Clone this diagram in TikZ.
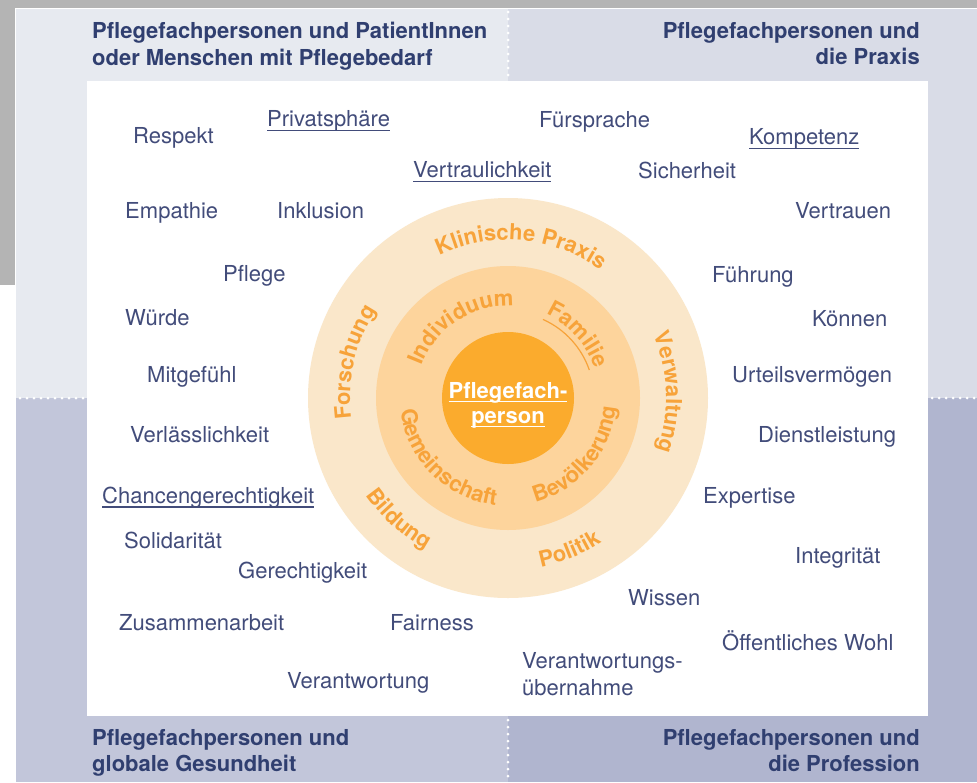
\documentclass[tikz,border=0pt]{standalone}
\usepackage{fontspec}
\setmainfont{TeX Gyre Heros}
\usetikzlibrary{decorations.text}

\definecolor{outgray}{RGB}{180,180,180}
\definecolor{quadTL}{RGB}{231,234,240}
\definecolor{quadTR}{RGB}{217,220,231}
\definecolor{quadBL}{RGB}{194,198,218}
\definecolor{quadBR}{RGB}{176,181,207}
\definecolor{headc}{RGB}{48,63,112}
\definecolor{wordc}{RGB}{66,76,122}
\definecolor{ringout}{RGB}{250,231,202}
\definecolor{ringmid}{RGB}{253,212,156}
\definecolor{ringin}{RGB}{251,171,45}
\definecolor{ringtxt}{RGB}{247,163,58}

\tikzstyle{head} = [font=\fontsize{22}{26.5}\selectfont\bfseries, text=headc, inner sep=0pt]
\tikzstyle{word} = [font=\fontsize{22}{27}\selectfont, text=wordc, inner sep=0pt, anchor=base west]
\tikzstyle{dots} = [white, line width=3pt, line cap=round, dash pattern=on 0pt off 7pt]

\newcommand{\ringfont}{\fontsize{22}{26}\selectfont\bfseries}
% underline drawn a fixed distance below the baseline
\newcommand{\ulw}[2][5pt]{\setbox0\hbox{#2}\rlap{\rule[-#1]{\wd0}{1.3pt}}\box0}

\begin{document}
\begin{tikzpicture}[x=1pt, y=1pt]
\useasboundingbox (0,0) rectangle (977,-782);
\fill[white] (0,0) rectangle (977,-782);
\fill[outgray] (0,0) rectangle (977,-8);
\fill[outgray] (0,0) rectangle (15,-285);

% the four fields
\fill[quadTL] (16,-9) rectangle (508,-398);
\fill[quadTR] (508,-9) rectangle (977,-398);
\fill[quadBL] (16,-398) rectangle (508,-782);
\fill[quadBR] (508,-398) rectangle (977,-782);
\draw[dots] (508,-12) -- (508,-81);
\draw[dots] (508,-720) -- (508,-782);
\draw[dots] (20,-398) -- (87,-398);
\draw[dots] (932,-398) -- (977,-398);
\fill[white] (87,-81) rectangle (928,-716);

\node[head, anchor=north west, align=left] (hpat) at (92,-22) {Pflegefachpersonen und PatientInnen\\oder Menschen mit Pflegebedarf};
\node[head, anchor=north east, align=right] (hprax) at (920,-22) {Pflegefachpersonen und\\die Praxis};
\node[head, anchor=north west, align=left] (hglob) at (92,-729) {Pflegefachpersonen und\\globale Gesundheit};
\node[head, anchor=north east, align=right] (hprof) at (920,-729) {Pflegefachpersonen und\\die Profession};

% rings
\coordinate (hub) at (508,-398);
\fill[ringout] (hub) circle[radius=200pt];
\fill[ringmid] (hub) circle[radius=132pt];
\fill[ringin] (hub) circle[radius=66pt];

\node[font=\fontsize{22}{25}\selectfont\bfseries, text=white, align=center, inner sep=0pt, anchor=north] (pfp) at (508,-382) {\ulw[4pt]{Pflegefach-}\\\ulw[4pt]{person}};

% outer ring
\path[decorate, decoration={text along path, text align=center, text color=ringtxt, text={|\ringfont|Klinische Praxis}}] (hub) ++(165:158pt) arc[start angle=165, end angle=5, radius=158pt];
\path[decorate, decoration={text along path, text align=center, text color=ringtxt, text={|\ringfont|Verwaltung}}] (hub) ++(82:158pt) arc[start angle=82, end angle=-78, radius=158pt];
\path[decorate, decoration={text along path, text align=center, text color=ringtxt, text={|\ringfont|Forschung}}] (hub) ++(247:158pt) arc[start angle=247, end angle=87, radius=158pt];
\path[decorate, decoration={text along path, text align=center, text color=ringtxt, text={|\ringfont|Politik}}] (hub) ++(-148:172pt) arc[start angle=-148, end angle=12, radius=172pt];
\path[decorate, decoration={text along path, text align=center, text color=ringtxt, text={|\ringfont|Bildung}}] (hub) ++(-212:172pt) arc[start angle=-212, end angle=-52, radius=172pt];

% middle ring
\path[decorate, decoration={text along path, text align=center, text color=ringtxt, text={|\ringfont|Individuum}}] (hub) ++(203:92pt) arc[start angle=203, end angle=43, radius=92pt];
\path[decorate, decoration={text along path, text align=center, text color=ringtxt, text={|\ringfont|Familie}}] (hub) ++(122:92pt) arc[start angle=122, end angle=-38, radius=92pt];
\draw[ringtxt, line width=1.2pt] (hub) ++(66:86pt) arc[start angle=66, end angle=19, radius=86pt];
\path[decorate, decoration={text along path, text align=center, text color=ringtxt, text={|\ringfont|Bevölkerung}}] (hub) ++(-120:108pt) arc[start angle=-120, end angle=40, radius=108pt];
\path[decorate, decoration={text along path, text align=center, text color=ringtxt, text={|\ringfont|Gemeinschaft}}] (hub) ++(-215:108pt) arc[start angle=-215, end angle=-55, radius=108pt];

% values around the rings
\node[word] (respekt) at (133,-143) {Respekt};
\node[word] (privat) at (267,-126) {\ulw{Privatsphäre}};
\node[word] (vertraul) at (413,-177) {\ulw{Vertraulichkeit}};
\node[word] (fuersp) at (539,-127) {Fürsprache};
\node[word] (kompetenz) at (749,-144) {\ulw{Kompetenz}};
\node[word] (sicher) at (638,-178) {Sicherheit};
\node[word] (empathie) at (125,-218) {Empathie};
\node[word] (inklusion) at (277,-218) {Inklusion};
\node[word] (vertrauen) at (795,-218) {Vertrauen};
\node[word] (pflege) at (223,-281) {Pflege};
\node[word] (fuehrung) at (712,-282) {Führung};
\node[word] (wuerde) at (125,-325) {Würde};
\node[word] (koennen) at (812,-326) {Können};
\node[word] (mitgef) at (147,-382) {Mitgefühl};
\node[word] (urteil) at (732,-382) {Urteilsvermögen};
\node[word] (verlass) at (130,-442) {Verlässlichkeit};
\node[word] (dienst) at (758,-442) {Dienstleistung};
\node[word] (chancen) at (102,-503) {\ulw[4.5pt]{Chancengerechtigkeit}};
\node[word] (expertise) at (703,-503) {Expertise};
\node[word] (solid) at (124,-548) {Solidarität};
\node[word] (integr) at (795,-563) {Integrität};
\node[word] (gerecht) at (238,-578) {Gerechtigkeit};
\node[word] (wissen) at (628,-605) {Wissen};
\node[word] (zusammen) at (119,-630) {Zusammenarbeit};
\node[word] (fairness) at (390,-630) {Fairness};
\node[word] (wohl) at (722,-650) {Öffentliches Wohl};
\node[word] (verantw) at (287,-688) {Verantwortung};
\node[word, anchor=north west, align=left] (uebernahme) at (522,-652) {Verantwortungs-\\übernahme};
\end{tikzpicture}
\end{document}
